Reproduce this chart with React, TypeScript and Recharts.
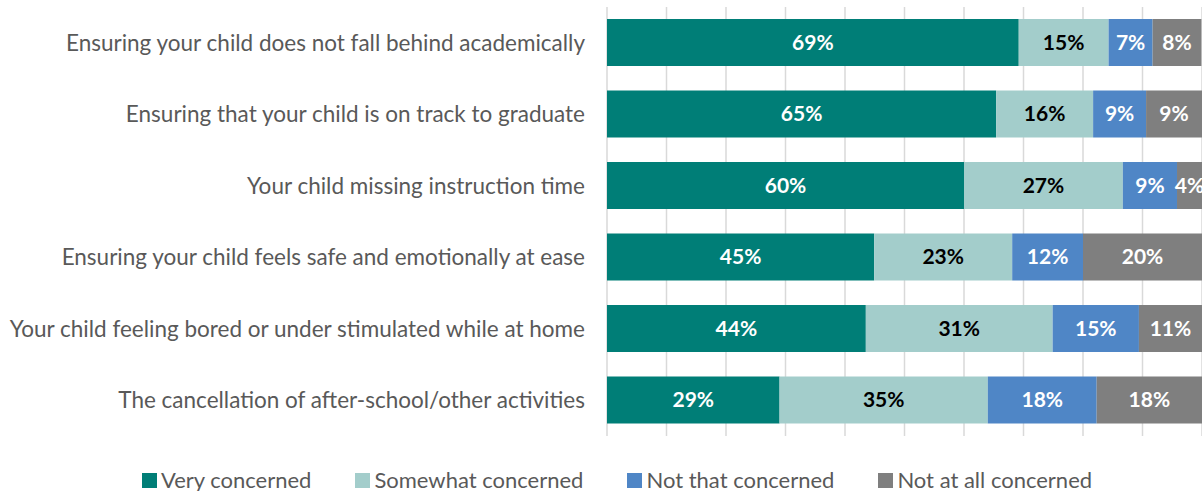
import React from 'react';
import { BarChart, Bar, XAxis, YAxis, CartesianGrid, Legend, LabelList } from 'recharts';

const categories = [
  'Ensuring your child does not fall behind academically',
  'Ensuring that your child is on track to graduate',
  'Your child missing instruction time',
  'Ensuring your child feels safe and emotionally at ease',
  'Your child feeling bored or under stimulated while at home',
  'The cancellation of after-school/other activities',
];

const veryConcerned = [69.2, 65.4, 60.0, 44.9, 43.5, 29.0];
const somewhatConcerned = [15.1, 16.3, 26.7, 23.2, 31.4, 35.0];
const notThatConcerned = [7.4, 8.9, 9.1, 11.9, 14.5, 18.3];
const notAtAllConcerned = [8.2, 9.4, 4.2, 20.0, 10.6, 17.7];

const xTicks = [0, 10, 20, 30, 40, 50, 60, 70, 80, 90, 100];

const series = [
  { key: 'very', name: 'Very concerned', color: '#007E77', text: '#FFFFFF' },
  { key: 'somewhat', name: 'Somewhat concerned', color: '#A3CDCB', text: '#000000' },
  { key: 'notThat', name: 'Not that concerned', color: '#4F86C6', text: '#FFFFFF' },
  { key: 'notAtAll', name: 'Not at all concerned', color: '#7F7F7F', text: '#FFFFFF' },
];

const data = categories.map((name, i) => ({
  name,
  very: veryConcerned[i],
  somewhat: somewhatConcerned[i],
  notThat: notThatConcerned[i],
  notAtAll: notAtAllConcerned[i],
}));

const FONT = 'Lato, "Open Sans", sans-serif';

const CategoryTick = (props: any) => {
  const { y, payload } = props;
  return (
    <text x={585} y={y} dy={8} textAnchor="end" fontSize={22.5} fill="#595959" fontFamily={FONT}>
      {payload.value}
    </text>
  );
};

const LegendContent = () => (
  <div style={{ display: 'flex', justifyContent: 'center', gap: 44, fontFamily: FONT, fontSize: 22, color: '#595959', paddingLeft: 32, lineHeight: '28px' }}>
    {series.map(s => (
      <div key={s.key} style={{ display: 'flex', alignItems: 'center' }}>
        <span style={{ display: 'inline-block', width: 15, height: 15, background: s.color, marginRight: 4 }} />
        <span>{s.name}</span>
      </div>
    ))}
  </div>
);

export default function App() {
  return (
    <div style={{ position: 'absolute', left: 0, top: 0, width: 1202, height: 491, background: '#fff' }}>
      <BarChart
        width={1202}
        height={491}
        data={data}
        layout="vertical"
        margin={{ top: 7, right: 0, bottom: 27, left: 0 }}
        barSize={47}
      >
        <CartesianGrid horizontal={false} stroke="#D9D9D9" strokeWidth={1.5} />
        <XAxis type="number" domain={[0, 100]} ticks={xTicks} hide allowDataOverflow />
        <YAxis
          type="category"
          dataKey="name"
          width={607}
          tick={<CategoryTick />}
          axisLine={false}
          tickLine={false}
        />
        {series.map(s => (
          <Bar key={s.key} dataKey={s.key} name={s.name} stackId="a" fill={s.color} isAnimationActive={false}>
            <LabelList
              dataKey={s.key}
              position="center"
              formatter={(v: any) => `${Math.round(Number(v))}%`}
              fill={s.text}
              fontSize={21}
              fontWeight="bold"
              fontFamily={FONT}
            />
          </Bar>
        ))}
        <Legend verticalAlign="bottom" content={<LegendContent />} wrapperStyle={{ bottom: -3, height: 28 }} />
      </BarChart>
    </div>
  );
}
